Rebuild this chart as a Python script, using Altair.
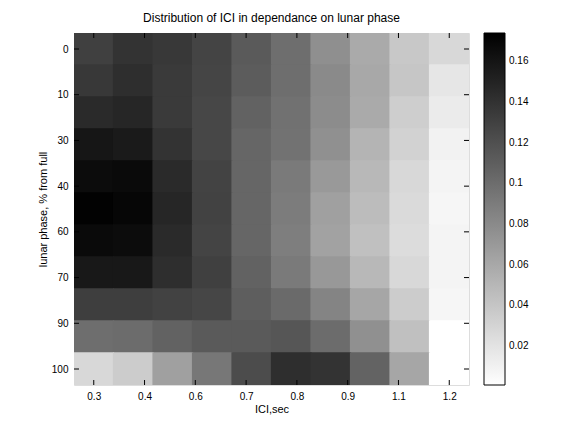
import altair as alt
import numpy as np
import pandas as pd

ici = [0.3, 0.4, 0.5, 0.6, 0.7, 0.8, 0.9, 1.0, 1.1, 1.2]
phase = [0, 10, 20, 30, 40, 50, 60, 70, 80, 90, 100]
values = [
    [0.1305, 0.1394, 0.1360, 0.1278, 0.1129, 0.0993, 0.0769, 0.0586, 0.0382, 0.0273],
    [0.1360, 0.1428, 0.1346, 0.1271, 0.1115, 0.0993, 0.0803, 0.0599, 0.0396, 0.0178],
    [0.1455, 0.1482, 0.1346, 0.1258, 0.1075, 0.0973, 0.0789, 0.0586, 0.0341, 0.0144],
    [0.1591, 0.1563, 0.1394, 0.1258, 0.1047, 0.0966, 0.0762, 0.0518, 0.0314, 0.0097],
    [0.1659, 0.1672, 0.1455, 0.1285, 0.1047, 0.0912, 0.0701, 0.0491, 0.0273, 0.0083],
    [0.1726, 0.1699, 0.1482, 0.1292, 0.1047, 0.0898, 0.0654, 0.0463, 0.0260, 0.0070],
    [0.1672, 0.1659, 0.1455, 0.1278, 0.1047, 0.0884, 0.0640, 0.0436, 0.0246, 0.0083],
    [0.1577, 0.1577, 0.1428, 0.1305, 0.1075, 0.0912, 0.0708, 0.0491, 0.0273, 0.0083],
    [0.1319, 0.1319, 0.1292, 0.1265, 0.1102, 0.1020, 0.0844, 0.0613, 0.0355, 0.0070],
    [0.0993, 0.1007, 0.1075, 0.1129, 0.1129, 0.1156, 0.1007, 0.0762, 0.0436, 0.0008],
    [0.0273, 0.0355, 0.0654, 0.0932, 0.1224, 0.1428, 0.1394, 0.1068, 0.0613, 0.0008],
]
x_ticks = list(np.linspace(0.3, 1.2, 8))
y_ticks = list(np.linspace(0, 100, 8))
cbar_ticks = [0.02, 0.04, 0.06, 0.08, 0.1, 0.12, 0.14, 0.16]
vmin, vmax = 0.0008, 0.174

rows = []
for i, p in enumerate(phase):
    for j, c in enumerate(ici):
        rows.append({"ici": c, "phase": p, "value": values[i][j]})
df = pd.DataFrame(rows)

W, H = 395, 352
CBX, CBW = 410, 21
font = "Liberation Sans"

xs = alt.Scale(domain=[0.25, 1.25], nice=False, zero=False)
ys = alt.Scale(domain=[-5, 105], nice=False, zero=False, reverse=True)
cs = alt.Scale(domain=[vmin, vmax], range=["white", "black"],
               interpolate="rgb", zero=False, nice=False)
cby = alt.Scale(domain=[vmin, vmax], nice=False, zero=False)

heat = alt.Chart(df).transform_calculate(
    x0="datum.ici - 0.0515", x1="datum.ici + 0.0515",
    y0="datum.phase - 5.2", y1="datum.phase + 5.2",
).mark_rect(strokeWidth=0, clip=True).encode(
    x=alt.X("x0:Q", scale=xs, title="ICI,sec",
            axis=alt.Axis(values=x_ticks, labelExpr="format(datum.value, '.1f')",
                          ticks=False, domain=False, grid=False, labelPadding=6,
                          titlePadding=2, titleFontWeight="normal")),
    x2="x1:Q",
    y=alt.Y("y0:Q", scale=ys, title="lunar phase, % from full",
            axis=alt.Axis(values=y_ticks, labelExpr="format(round(datum.value/10)*10, 'd')",
                          ticks=False, domain=False, grid=False, labelPadding=6,
                          titlePadding=3, titleFontWeight="normal")),
    y2="y1:Q",
    color=alt.Color("value:Q", scale=cs,
                    legend=alt.Legend(title=None, orient="none", legendX=CBX, legendY=0,
                                      direction="vertical", gradientLength=H,
                                      gradientThickness=CBW, gradientStrokeColor="black",
                                      gradientStrokeWidth=1, values=cbar_ticks,
                                      labelExpr="format(datum.value, '.2~f')",
                                      labelFontSize=10, labelFont=font, labelColor="black",
                                      labelOffset=4, labelOverlap=False)),
)

xt = pd.DataFrame({"t": x_ticks})
yt = pd.DataFrame({"t": y_ticks})
ct = pd.DataFrame({"c": cbar_ticks})
tick_bot = alt.Chart(xt).mark_rule(color="black").encode(
    x=alt.X("t:Q", scale=xs), y=alt.value(H), y2=alt.value(H - 5))
tick_top = alt.Chart(xt).mark_rule(color="black").encode(
    x=alt.X("t:Q", scale=xs), y=alt.value(0), y2=alt.value(5))
tick_left = alt.Chart(yt).mark_rule(color="black").encode(
    y=alt.Y("t:Q", scale=ys, axis=None), x=alt.value(0), x2=alt.value(5))
tick_right = alt.Chart(yt).mark_rule(color="black").encode(
    y=alt.Y("t:Q", scale=ys, axis=None), x=alt.value(W), x2=alt.value(W - 5))
cb_left = alt.Chart(ct).mark_rule(color="black", clip=False).encode(
    y=alt.Y("c:Q", scale=cby, axis=None), x=alt.value(CBX), x2=alt.value(CBX + 4))
cb_right = alt.Chart(ct).mark_rule(color="black", clip=False).encode(
    y=alt.Y("c:Q", scale=cby, axis=None), x=alt.value(CBX + CBW), x2=alt.value(CBX + CBW - 4))

chart = alt.layer(heat, tick_bot, tick_top, tick_left, tick_right, cb_left, cb_right).resolve_scale(
    y="independent"
).properties(
    width=W, height=H,
    title=alt.Title("Distribution of ICI in dependance on lunar phase",
                    fontSize=12, font=font, fontWeight="normal", color="black", offset=8),
    autosize=alt.AutoSizeParams(type="none"),
    padding={"left": 66, "top": 25, "right": 99, "bottom": 39},
).configure_view(stroke="black", strokeWidth=1).configure_axis(
    labelFont=font, labelFontSize=10, labelColor="black",
    titleFont=font, titleFontSize=10, titleFontWeight="normal", titleColor="black",
).configure(background="white")

chart.save("out.html", embed_options={"renderer": "svg", "actions": False})
